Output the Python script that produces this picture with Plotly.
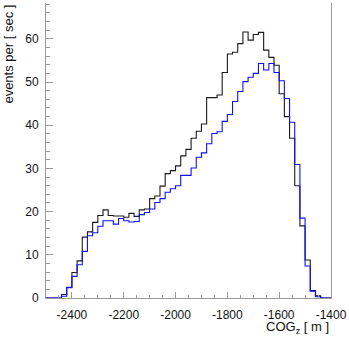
import plotly.graph_objects as go

# Histogram binning
bin_lo = -2500
bin_width = 20

black_counts = [0, 0, 0, 0.8, 2.5, 5.9, 8.6, 14.1, 15.3, 17.5, 19.1, 20.4, 19.1, 19.0, 19.0,
                18.7, 19.6, 18.9, 20.4, 20.6, 23.0, 23.6, 25.9, 28.8, 29.5, 30.6, 32.9, 34.4,
                37.0, 38.6, 40.3, 46.4, 46.4, 47.0, 52.2, 56.5, 56.9, 58.9, 61.6, 59.7, 61.0,
                61.5, 57.4, 55.7, 53.9, 47.3, 42.0, 37.0, 26.0, 16.7, 8.8, 1.7, 0.5, 0, 0]

blue_counts = [0, 0, 0, 0.4, 2.4, 5.0, 7.7, 10.8, 14.4, 15.1, 16.6, 17.9, 17.9, 17.1, 18.4,
               17.9, 17.6, 17.7, 19.3, 19.8, 20.6, 22.1, 23.0, 24.5, 25.3, 26.0, 28.4, 28.4,
               30.1, 32.6, 33.6, 35.7, 38.1, 38.5, 40.9, 42.5, 45.5, 47.8, 50.1, 51.1, 52.0,
               54.3, 52.8, 54.3, 52.2, 50.3, 46.2, 40.7, 30.9, 18.5, 7.4, 1.6, 0.3, 0, 0]

x_tickvals = [-2400, -2200, -2000, -1800, -1600, -1400]
x_ticktext = ["-2400", "-2200", "-2000", "-1800", "-1600", "-1400"]
y_tickvals = [0, 10, 20, 30, 40, 50, 60]
y_ticktext = ["0", "10", "20", "30", "40", "50", "60"]

n_bins = len(black_counts)
edges = [bin_lo + bin_width * i for i in range(n_bins + 1)]

fig = go.Figure()
fig.add_trace(go.Scatter(x=edges, y=black_counts + [black_counts[-1]], mode="lines",
                         line=dict(shape="hv", color="#1a1a1a", width=1.1), showlegend=False,
                         hoverinfo="skip"))
fig.add_trace(go.Scatter(x=edges, y=blue_counts + [blue_counts[-1]], mode="lines",
                         line=dict(shape="hv", color="#1010ff", width=1.1), showlegend=False,
                         hoverinfo="skip"))

font_family = "Liberation Sans, Arial, sans-serif"
axis_col = "#9a9a9a"

fig.update_layout(
    width=349, height=339,
    margin=dict(l=46, r=18, t=3, b=41),
    paper_bgcolor="white", plot_bgcolor="white",
    font=dict(family=font_family, size=12, color="#111"),
    xaxis=dict(range=[-2500, -1400], showgrid=False, zeroline=False,
               showline=True, linecolor=axis_col, linewidth=1, mirror=False,
               ticks="inside", ticklen=6, tickcolor=axis_col, tickwidth=1,
               tickvals=x_tickvals, ticktext=x_ticktext, ticklabelstandoff=6,
               minor=dict(dtick=50, tick0=-2500, ticks="inside", ticklen=3, tickcolor=axis_col),
               tickfont=dict(size=12)),
    yaxis=dict(range=[0, 68.3], showgrid=False, zeroline=False,
               showline=True, linecolor=axis_col, linewidth=1, mirror=True,
               ticks="inside", ticklen=7, tickcolor=axis_col, tickwidth=1,
               tickvals=y_tickvals, ticktext=y_ticktext, ticklabelstandoff=4,
               minor=dict(dtick=2, tick0=0, ticks="inside", ticklen=4, tickcolor=axis_col),
               tickfont=dict(size=12)),
    annotations=[
        dict(text="COG<sub>z</sub> [ m ]", xref="paper", yref="paper", x=1.0, y=-0.1,
             xanchor="right", yanchor="middle", showarrow=False, font=dict(size=13)),
        dict(text="events per [ sec ]", xref="paper", yref="paper", x=-0.133, y=1.0,
             xanchor="center", yanchor="top", textangle=-90, showarrow=False, font=dict(size=13)),
    ],
)

fig.write_html("out.html", config={"displayModeBar": False},
               post_script="document.body.style.margin='0';document.body.style.overflow='hidden';")
